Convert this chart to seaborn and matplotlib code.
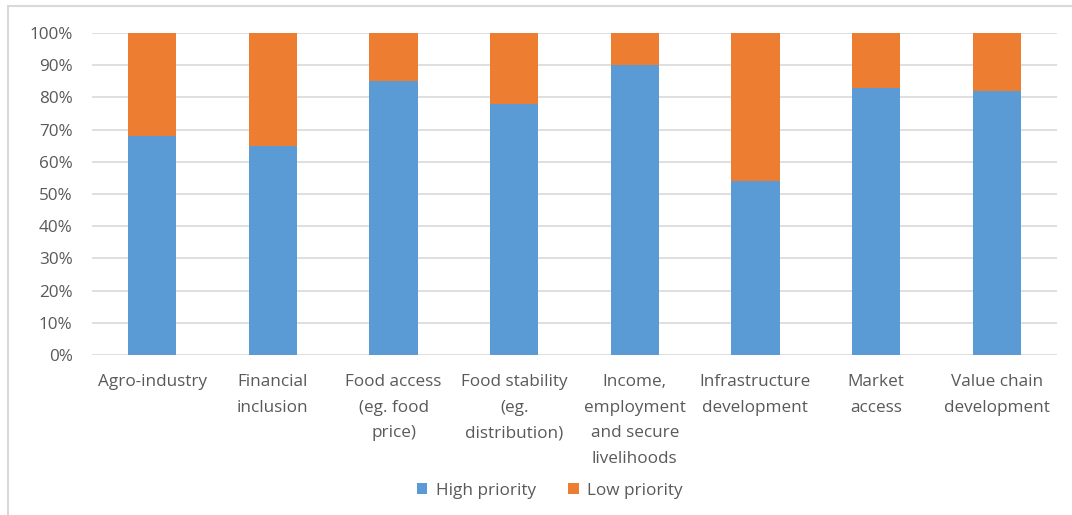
import matplotlib
matplotlib.use("Agg")
import matplotlib.pyplot as plt
import seaborn as sns
import pandas as pd
from matplotlib.lines import Line2D
from matplotlib.ticker import FuncFormatter, MultipleLocator

categories = [
    "Agro-industry",
    "Financial\ninclusion",
    "Food access\n(eg. food\nprice)",
    "Food stability\n(eg.\ndistribution)",
    "Income,\nemployment\nand secure\nlivelihoods",
    "Infrastructure\ndevelopment",
    "Market\naccess",
    "Value chain\ndevelopment",
]
high_priority = [68, 65, 85, 78, 90, 54, 83, 82]
low_priority = [100 - v for v in high_priority]

BLUE = "#5b9bd5"
ORANGE = "#ed7d31"
TEXT = "#595959"
GRID = "#d9d9d9"
FS = 12.3

sns.set_theme(style="white")
plt.rcParams["font.family"] = ["Open Sans", "DejaVu Sans"]

df = pd.DataFrame({
    "category": categories,
    "high": high_priority,
    "total": [h + l for h, l in zip(high_priority, low_priority)],
})

fig = plt.figure(figsize=(10.72, 5.15), dpi=100)
ax = fig.add_axes([0.0858, 0.3107, 0.9002, 0.6253])

# stacked bars: full stack in orange, high-priority share drawn over it
sns.barplot(data=df, x="category", y="total", color=ORANGE, width=0.4,
            saturation=1, ax=ax, label="Low priority", zorder=3, linewidth=0)
sns.barplot(data=df, x="category", y="high", color=BLUE, width=0.4,
            saturation=1, ax=ax, label="High priority", zorder=4, linewidth=0)

ax.set_ylim(0, 100)
ax.set_xlim(-0.5, len(categories) - 0.5)
ax.yaxis.set_major_locator(MultipleLocator(10))
ax.yaxis.set_major_formatter(FuncFormatter(lambda v, _: f"{v:.0f}%"))
ax.grid(axis="y", color=GRID, linewidth=1.2, zorder=0)
ax.set_axisbelow(True)
for s in ax.spines.values():
    s.set_visible(False)
ax.set_xlabel("")
ax.set_ylabel("")
ax.tick_params(axis="y", length=0, pad=14, labelsize=FS, labelcolor=TEXT)
ax.tick_params(axis="x", length=0, pad=14, labelsize=FS, labelcolor=TEXT)
for lbl in ax.get_xticklabels():
    lbl.set_linespacing(1.78)
    lbl.set_horizontalalignment("center")

handles, labels = ax.get_legend_handles_labels()
if ax.get_legend() is not None:
    ax.get_legend().remove()
order = [labels.index("High priority"), labels.index("Low priority")]
leg = fig.legend([handles[i] for i in order], [labels[i] for i in order],
                 loc="center", bbox_to_anchor=(0.513, 0.047), ncol=2,
                 frameon=False, fontsize=FS, handlelength=0.6,
                 handleheight=0.6, handletextpad=0.5, columnspacing=1.9)
for t in leg.get_texts():
    t.set_color(TEXT)

# chart-area frame edges (top and left)
fig.add_artist(Line2D([0.0075, 1.0], [0.988, 0.988], transform=fig.transFigure,
                      color="#d9d9d9", linewidth=1.5))
fig.add_artist(Line2D([0.0075, 0.0075], [0.0, 0.988], transform=fig.transFigure,
                      color="#d9d9d9", linewidth=1.5))

fig.savefig("out.png", dpi=100, facecolor="white")
